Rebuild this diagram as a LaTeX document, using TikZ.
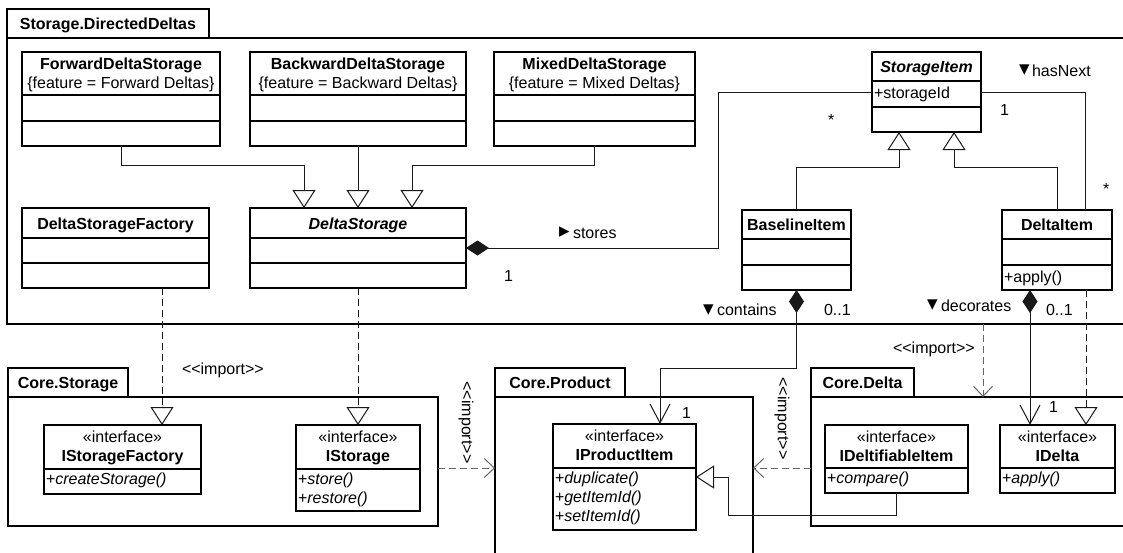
\documentclass[tikz,border=0pt]{standalone}
\usepackage{fontspec}
\setmainfont{Liberation Sans}[Ligatures=TeXOff]
\newfontfamily\symf{DejaVu Sans}
\usetikzlibrary{arrows.meta,calc}
\tikzset{
  boxline/.style={draw=black,line width=1.3pt},
  clsbox/.style={boxline,fill=white,rectangle,inner sep=0pt,outer sep=0pt},
  pkgbox/.style={boxline,rectangle,inner sep=0pt,outer sep=0pt},
  tb/.style={inner sep=0pt,outer sep=0pt,anchor=base},
  tl/.style={inner sep=0pt,outer sep=0pt,anchor=base west},
  tc/.style={inner sep=0pt,outer sep=0pt,anchor=center,text height=11.5pt,text depth=0pt},
  conn/.style={draw=black!90,line width=1pt},
  gen/.style={conn,-{Triangle[open,length=18pt,width=23pt]}},
  real/.style={conn,dash pattern=on 7pt off 4pt,-{Triangle[open,length=18pt,width=23pt]}},
  compnav/.style={conn,{Diamond[length=23pt,width=15pt]}-{Straight Barb[length=19pt,width=20pt]}},
  comp/.style={conn,{Diamond[length=23pt,width=15pt]}-},
  imp/.style={draw=black!60,line width=1pt,dash pattern=on 7pt off 4pt,-{Straight Barb[length=10pt,width=19pt]}},
  sym/.style={inner sep=0pt,outer sep=0pt,anchor=center,font=\symf\fontsize{21}{21}\selectfont},
}
% class box: name, x1, y1, x2, y2, sep1, sep2
\newcommand\ucls[7]{%
  \node[clsbox,anchor=north west,minimum width={(#4-#2)*1pt},minimum height={(#5-#3)*1pt}] (#1) at (#2,#3) {};
  \draw[boxline] (#2,#6) -- (#4,#6);
  \if\relax\detokenize{#7}\relax\else\draw[boxline] (#2,#7) -- (#4,#7);\fi
}
% package: name, x1, tabtop, tabx2, boxtop, x2, y2, title
\newcommand\upkg[8]{%
  \node[pkgbox,anchor=north west,minimum width={(#6-#2)*1pt},minimum height={(#7-#5)*1pt}] (#1) at (#2,#5) {};
  \node[pkgbox,anchor=north west,minimum width={(#4-#2)*1pt},minimum height={(#5-#3)*1pt}] (#1-tab) at (#2,#3) {};
  \node[tc] (#1-title) at (#1-tab.center) {\bfseries #8};
}
\begin{document}
\begin{tikzpicture}[x=1pt,y=-1pt,font=\fontsize{16}{19}\selectfont]
\useasboundingbox (0,0) rectangle (1123,552);
\fill[white] (0,0) rectangle (1123,552);
\clip (0,0) rectangle (1123,552);

% packages
\upkg{p1}{7}{9}{209}{38}{1140}{324}{Storage.DirectedDeltas}
\upkg{ps}{8}{368}{128}{397}{438}{526}{Core.Storage}
\upkg{pp}{495}{368}{625}{397}{753}{570}{Core.Product}
\upkg{pd}{811}{368}{914}{397}{1140}{526}{Core.Delta}

% classes in Storage.DirectedDeltas
\ucls{fwd}{22}{52}{220}{146}{95}{121}
\node[tb] (fwd-n) at (121,69) {\bfseries ForwardDeltaStorage};
\node[tb] (fwd-c) at (121,88) {\{feature = Forward Deltas\}};
\ucls{bwd}{250}{52}{466}{146}{95}{121}
\node[tb] (bwd-n) at (358,69) {\bfseries BackwardDeltaStorage};
\node[tb] (bwd-c) at (358,88) {\{feature = Backward Deltas\}};
\ucls{mix}{494}{52}{695}{146}{95}{121}
\node[tb] (mix-n) at (594.5,69) {\bfseries MixedDeltaStorage};
\node[tb] (mix-c) at (594.5,88) {\{feature = Mixed Deltas\}};
\ucls{si}{872}{52}{981}{132}{81}{107}
\node[tb] (si-n) at (926.5,72.5) {\bfseries\itshape StorageItem};
\node[tl] (si-a) at (874,98) {+storageId};
\ucls{dsf}{22}{208}{209}{288}{238}{263}
\node[tb] (dsf-n) at (115.5,229) {\bfseries DeltaStorageFactory};
\ucls{ds}{250}{208}{466}{288}{238}{263}
\node[tb] (ds-n) at (358,229) {\bfseries\itshape DeltaStorage};
\ucls{bl}{742}{210}{851}{290}{239}{265}
\node[tb] (bl-n) at (796.5,230.5) {\bfseries BaselineItem};
\ucls{di}{1002}{210}{1112}{290}{239}{265}
\node[tb] (di-n) at (1057,230.5) {\bfseries DeltaItem};
\node[tl] (di-o) at (1004,282) {+apply()};

% interfaces
\ucls{isf}{44}{425}{201}{494}{469}{}
\node[tb] (isf-s) at (122.5,442) {«interface»};
\node[tb] (isf-n) at (122.5,461) {\bfseries IStorageFactory};
\node[tl] (isf-o) at (46,484) {+\textit{createStorage()}};
\ucls{is}{296}{425}{420}{511}{469}{}
\node[tb] (is-s) at (358,442) {«interface»};
\node[tb] (is-n) at (358,461) {\bfseries IStorage};
\node[tl] (is-o1) at (298,484) {+\textit{store()}};
\node[tl] (is-o2) at (298,503) {+\textit{restore()}};
\ucls{ipi}{553}{424}{696}{530}{468}{}
\node[tb] (ipi-s) at (624.5,441) {«interface»};
\node[tb] (ipi-n) at (624.5,460) {\bfseries IProductItem};
\node[tl] (ipi-o1) at (555,483) {+\textit{duplicate()}};
\node[tl] (ipi-o2) at (555,502) {+\textit{getItemId()}};
\node[tl] (ipi-o3) at (555,521) {+\textit{setItemId()}};
\ucls{idf}{825}{425}{968}{493}{468}{}
\node[tb] (idf-s) at (896.5,442) {«interface»};
\node[tb] (idf-n) at (896.5,461) {\bfseries IDeltifiableItem};
\node[tl] (idf-o) at (827,483) {+\textit{compare()}};
\ucls{idl}{1000}{425}{1115}{493}{468}{}
\node[tb] (idl-s) at (1057.5,442) {«interface»};
\node[tb] (idl-n) at (1057.5,461) {\bfseries IDelta};
\node[tl] (idl-o) at (1002,483) {+\textit{apply()}};

% generalizations
\draw[gen] (fwd.south) -- ++(0,19) -| ([xshift=-54pt]ds.north);
\draw[gen] (bwd.south) -- (ds.north);
\draw[gen] (mix.south) -- ++(0,19) -| ([xshift=54pt]ds.north);
\draw[gen] (bl.north) -- ++(0,-43) -| ([xshift=-27.5pt]si.south);
\draw[gen] (di.north) -- ++(0,-43) -| ([xshift=27.5pt]si.south);
\draw[gen] (idf.south) -- ++(0,22) -| ($(ipi.east)+(32,0)$) -- (ipi.east);

% associations
\draw[comp] (ds.east) -- ++(252,0) |- (si.west);
\draw[conn] (si.east) -| ([xshift=28pt]di.north);
\draw[compnav] (bl.south) -- ++(0,78) -| ([xshift=35.5pt]ipi.north);
\draw[compnav] ([xshift=-27pt]di.south) -- ([xshift=-27.5pt]idl.north);

% realizations
\draw[real] ([xshift=46.5pt]dsf.south) -- ([xshift=39.5pt]isf.north);
\draw[real] (ds.south) -- (is.north);
\draw[real] ([xshift=29pt]di.south) -- ([xshift=28.5pt]idl.north);

% imports
\coordinate (i1) at ([yshift=-6.5pt]ps.east);
\draw[imp] (i1) -- (i1 -| pp.west);
\coordinate (i2) at (pd.west |- i1);
\draw[imp] (i2) -- (i2 -| pp.east);
\coordinate (i3) at (983,324);
\draw[imp] (i3) -- (i3 |- pd.north);

% labels
\node[sym] (st-a) at (564.5,232.5) {▸};
\node[tl] (st-l) at (573,238) {stores};
\node[tl] (m-ds) at (504,281) {1};
\node[tl] (m-si1) at (828,125) {*};
\node[tl] (m-si2) at (1000,115) {1};
\node[tl] (m-di) at (1103,194) {*};
\node[sym] (hn-a) at (1024.5,70) {▾};
\node[tl] (hn-l) at (1032,76) {hasNext};
\node[sym] (co-a) at (708.5,310) {▾};
\node[tl] (co-l) at (717,315) {contains};
\node[tl] (m-bl) at (824,315) {0..1};
\node[sym] (de-a) at (932.5,305) {▾};
\node[tl] (de-l) at (941,311) {decorates};
\node[tl] (m-di2) at (1046,315) {0..1};
\node[tl] (m-ipi) at (682,418) {1};
\node[tl] (m-idl) at (1049,412) {1};
\node[tl] (imp-l1) at (182,374) {<<import>>};
\node[tl] (imp-l3) at (893,353) {<<import>>};
\node[tc,rotate=-90] (imp-l2) at (467.5,422.5) {<<import>>};
\node[tc,rotate=-90] (imp-l4) at (783.5,418.5) {<<import>>};
\end{tikzpicture}
\end{document}
